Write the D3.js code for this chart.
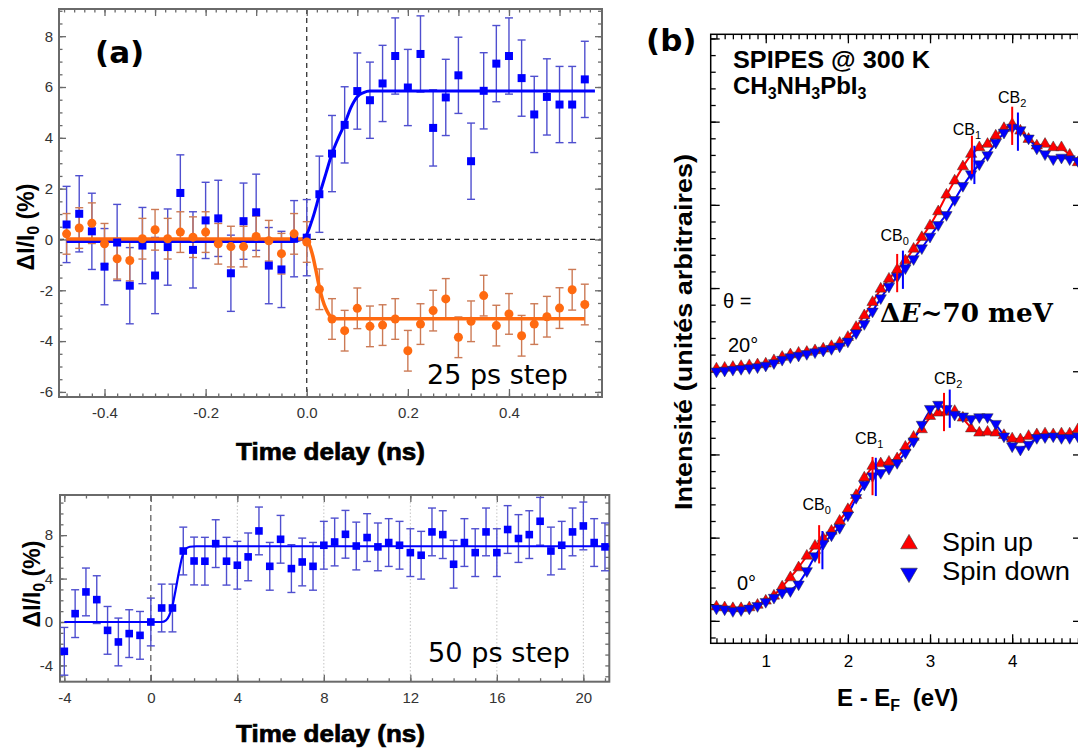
<!DOCTYPE html>
<html>
<head>
<meta charset="utf-8">
<script src="https://cdn.jsdelivr.net/npm/d3@7"></script>
<style>
  body { margin: 0; background: #fff; }
  svg { display: block; }
  text { font-family: "Liberation Sans", Arial, sans-serif; }
</style>
</head>
<body>
<svg id="chart" width="1078" height="751"></svg>
<script>
// ---- panel (a) top : 25 ps step ----
const timeA = [-0.475,-0.45,-0.425,-0.4,-0.375,-0.35,-0.325,-0.3,-0.275,-0.25,-0.225,-0.2,-0.175,-0.15,-0.125,-0.1,-0.075,-0.05,-0.025,0,
  0.025,0.05,0.075,0.1,0.125,0.15,0.175,0.2,0.225,0.25,0.275,0.3,0.325,0.35,0.375,0.4,0.425,0.45,0.475,0.5,0.525,0.55];
const blueA = [0.59,1.01,0.32,-1.07,-0.12,-1.82,-0.24,-1.42,-0.3,1.83,-0.41,0.75,0.83,-1.33,0.72,1.07,-1.03,-1.18,0.03,0.07,
  1.78,3.38,4.51,5.84,5.48,6.14,7.22,5.98,7.3,4.39,5.59,6.46,3.08,5.85,6.92,7.22,6.35,4.92,5.61,5.31,5.31,6.3];
const orangeA = [0.22,0.45,0.64,-0.17,-0.76,-0.83,0.03,0.38,0.03,0.29,0.09,0.29,-0.17,-0.28,-0.28,0.12,-0.05,-0.56,0.22,-0.1,
  -1.96,-3.13,-3.59,-2.71,-3.42,-3.37,-3.13,-4.38,-3.33,-2.8,-2.34,-3.85,-3.22,-2.21,-3.39,-2.93,-3.79,-3.33,-3.04,-2.7,-1.98,-2.56];
const blueErrA = 1.5;
const orangeErrA = 0.8;
const fitBlueA = [[-0.475,-0.08],[-0.03,-0.08],[-0.01,0.0],[0,0.2],[0.012,0.85],[0.025,1.75],[0.038,2.6],[0.05,3.38],
  [0.0625,4.0],[0.075,4.55],[0.0875,5.2],[0.1,5.62],[0.1125,5.78],[0.125,5.84],[0.57,5.84]];
const fitOrangeA = [[-0.475,0.02],[-0.01,0.02],[0,-0.08],[0.006,-0.25],[0.012,-0.65],[0.018,-1.2],[0.025,-1.88],[0.031,-2.35],
  [0.038,-2.73],[0.044,-2.95],[0.05,-3.07],[0.06,-3.12],[0.55,-3.12]];

// ---- panel (a) bottom : 50 ps step ----
const timeB = [-4,-3.5,-3,-2.5,-2,-1.5,-1,-0.5,0,0.5,1,1.5,2,2.5,3,3.5,4,4.5,5,5.5,6,6.5,7,7.5,8,8.5,9,9.5,10,10.5,
  11,11.5,12,12.5,13,13.5,14,14.5,15,15.5,16,16.5,17,17.5,18,18.5,19,19.5,20,20.5,21];
const blueB = [-2.7,0.77,2.77,2.06,-0.77,-1.84,-1.07,-1.23,0,1.29,1.29,6.54,5.62,5.6,7.22,5.6,5.23,6.0,8.39,5.13,
  7.62,4.92,5.53,5.13,7.07,7.37,8.08,7.0,7.78,6.92,7.32,7.07,6.39,6.15,8.3,8.05,5.32,7.32,6.39,8.3,
  6.39,8.52,7.69,8.05,9.28,6.54,7.07,8.3,8.85,7.32,6.92];
const blueErrB = 2.2;
const fitBlueB = [[-4,0],[0.5,0],[0.7,0.15],[0.85,0.6],[1.0,1.5],[1.15,3.0],[1.3,4.6],[1.45,6.0],[1.6,6.7],[1.8,6.93],[2.1,6.98],[21.2,6.98]];
const gridB = [4, 8, 12, 16, 20];

// ---- panel (b) : SPIPES spectra ----
const energy = [0.4,0.5,0.6,0.7,0.8,0.9,1.0,1.1,1.2,1.3,1.4,1.5,1.6,1.7,1.8,1.9,2.0,2.1,2.2,2.3,2.4,2.5,2.6,2.7,2.8,2.9,
  3.0,3.1,3.2,3.3,3.4,3.5,3.6,3.7,3.8,3.9,4.0,4.1,4.2,4.3,4.4,4.5,4.6,4.7,4.8];
const spinUp20 = [3.03,3.04,3.05,3.06,3.07,3.08,3.09,3.13,3.17,3.2,3.22,3.23,3.25,3.27,3.3,3.34,3.41,3.53,3.67,3.83,3.99,4.11,4.22,4.33,4.47,4.61,
  4.75,4.92,5.12,5.29,5.46,5.61,5.69,5.73,5.83,5.92,5.97,5.89,5.79,5.71,5.73,5.69,5.69,5.6,5.51];
const spinDown20 = [3.0,3.01,3.02,3.03,3.04,3.05,3.07,3.1,3.14,3.17,3.19,3.21,3.23,3.25,3.27,3.3,3.36,3.46,3.57,3.72,3.88,4.02,4.14,4.24,4.35,4.48,
  4.62,4.76,4.88,5.06,5.23,5.37,5.49,5.6,5.75,5.87,5.93,5.9,5.8,5.68,5.61,5.55,5.57,5.55,5.53];
const spinUp0 = [0.17,0.16,0.15,0.15,0.16,0.19,0.24,0.3,0.41,0.52,0.64,0.78,0.9,0.99,1.08,1.2,1.34,1.51,1.72,1.86,1.89,1.91,1.95,2.09,2.21,2.3,
  2.46,2.5,2.51,2.52,2.44,2.31,2.26,2.27,2.26,2.23,2.19,2.18,2.22,2.24,2.25,2.24,2.25,2.25,2.3];
const spinDown0 = [0.15,0.14,0.12,0.13,0.15,0.18,0.23,0.28,0.34,0.36,0.44,0.6,0.78,0.93,1.03,1.12,1.27,1.48,1.64,1.74,1.78,1.83,1.9,2.02,2.16,2.36,
  2.55,2.6,2.55,2.48,2.46,2.43,2.45,2.45,2.37,2.22,2.1,2.06,2.12,2.2,2.21,2.22,2.2,2.2,2.22];

// CB markers (energy, centre value) for each spin and angle
const cbNames = ["0", "1", "2"];
const cbUpE20 = [2.6, 3.51, 4.0],    cbUpV20 = [4.18, 5.6, 5.95];
const cbDownE20 = [2.67, 3.54, 4.07], cbDownV20 = [4.22, 5.48, 5.88];
const cbUpE0 = [1.65, 2.3, 3.17],    cbUpV0 = [0.92, 1.74, 2.51];
const cbDownE0 = [1.69, 2.34, 3.24], cbDownV0 = [0.85, 1.73, 2.55];
const cbHalf = 0.23;
const cbLabelE20 = [2.57, 3.45, 4.0], cbLabelV20 = [4.57, 5.84, 6.23];
const cbLabelE0 = [1.62, 2.26, 3.22], cbLabelV0 = [1.33, 2.13, 2.85];

const svg = d3.select("#chart");

const BLUE = "#0000ff", BLUE_ERR = "#4f4fcf", ORANGE = "#ff6a10", ORANGE_ERR = "#cc7a55", FRAME_A = "#6a6a6a";

// inward ticks, no domain line
function ticks(g, axisFn, scale, values, size, transform, color, fmt, pad, fontSize) {
  const ax = axisFn(scale).tickValues(values).tickSize(-size).tickSizeOuter(0)
    .tickPadding(pad || 0).tickFormat(fmt || (() => ""));
  const s = g.append("g").attr("transform", transform).call(ax);
  s.select(".domain").remove();
  s.selectAll("line").attr("stroke", color).attr("stroke-width", 1.3);
  s.selectAll("text").attr("fill", "#333").style("font-size", (fontSize || 15) + "px")
    .style("font-family", '"Liberation Sans", Arial, sans-serif');
  return s;
}

// ================= panel (a) top =================
const xA = d3.scaleLinear().domain([-0.49, 0.584]).range([59, 602]);
const yA = d3.scaleLinear().domain([-6.2, 9.07]).range([397, 9]);
const gA = svg.append("g");

// dashed zero lines
gA.append("line").attr("x1", xA(0)).attr("x2", xA(0)).attr("y1", yA.range()[1]).attr("y2", yA.range()[0])
  .attr("stroke", "#222").attr("stroke-width", 1.2).attr("stroke-dasharray", "5,4");
gA.append("line").attr("x1", xA.range()[0]).attr("x2", xA.range()[1]).attr("y1", yA(0)).attr("y2", yA(0))
  .attr("stroke", "#222").attr("stroke-width", 1.2).attr("stroke-dasharray", "5,4");

const fmtA = d => d.toFixed(1);
const fmtInt = d => String(d);
ticks(gA, d3.axisBottom, xA, d3.range(-0.475, 0.58, 0.025), 3.5, `translate(0,397)`, FRAME_A);
ticks(gA, d3.axisBottom, xA, [-0.4, -0.2, 0, 0.2, 0.4], 8, `translate(0,397)`, FRAME_A, fmtA, 10, 15);
ticks(gA, d3.axisTop, xA, d3.range(-0.48, 0.58, 0.02), 3.5, `translate(0,9)`, FRAME_A);
ticks(gA, d3.axisTop, xA, [-0.4, -0.3, -0.2, -0.1, 0, 0.1, 0.2, 0.3, 0.4, 0.5], 7, `translate(0,9)`, FRAME_A);
ticks(gA, d3.axisLeft, yA, d3.range(-6, 9.1, 0.5), 3.5, `translate(59,0)`, FRAME_A);
ticks(gA, d3.axisLeft, yA, [-6, -4, -2, 0, 2, 4, 6, 8], 7, `translate(59,0)`, FRAME_A, fmtInt, 6, 15);
ticks(gA, d3.axisRight, yA, d3.range(-6, 9.1, 0.5), 4, `translate(602,0)`, FRAME_A);
ticks(gA, d3.axisRight, yA, [-6, -4, -2, 0, 2, 4, 6, 8], 7, `translate(602,0)`, FRAME_A);
gA.append("rect").attr("x", 59).attr("y", 9).attr("width", 602 - 59).attr("height", 397 - 9)
  .attr("fill", "none").attr("stroke", FRAME_A).attr("stroke-width", 2);

function errorBars(g, xs, ys, err, xScale, yScale, color) {
  const bars = g.append("g").attr("stroke", color).attr("stroke-width", 1.4);
  xs.forEach((t, i) => {
    const x = xScale(t), y0 = yScale(ys[i] - err), y1 = yScale(ys[i] + err);
    bars.append("line").attr("x1", x).attr("x2", x).attr("y1", y0).attr("y2", y1);
    bars.append("line").attr("x1", x - 4).attr("x2", x + 4).attr("y1", y0).attr("y2", y0);
    bars.append("line").attr("x1", x - 4).attr("x2", x + 4).attr("y1", y1).attr("y2", y1);
  });
}

errorBars(gA, timeA, blueA, blueErrA, xA, yA, BLUE_ERR);
errorBars(gA, timeA, orangeA, orangeErrA, xA, yA, ORANGE_ERR);

const lineA = d3.line().x(d => xA(d[0])).y(d => yA(d[1])).curve(d3.curveMonotoneX);
gA.append("path").attr("d", lineA(fitBlueA)).attr("fill", "none").attr("stroke", BLUE).attr("stroke-width", 3);
gA.append("path").attr("d", lineA(fitOrangeA)).attr("fill", "none").attr("stroke", ORANGE).attr("stroke-width", 3.5);

gA.append("g").selectAll("rect").data(timeA).join("rect")
  .attr("x", (d) => xA(d) - 4).attr("y", (d, i) => yA(blueA[i]) - 4)
  .attr("width", 8).attr("height", 8).attr("fill", BLUE);
gA.append("g").selectAll("circle").data(timeA).join("circle")
  .attr("cx", d => xA(d)).attr("cy", (d, i) => yA(orangeA[i])).attr("r", 4.5).attr("fill", ORANGE);

gA.append("text").attr("x", 95).attr("y", 63).style("font-size", "31px").style("font-weight", "bold")
  .style("font-family", '"DejaVu Sans", sans-serif').text("(a)");
gA.append("text").attr("x", 427).attr("y", 384).style("font-size", "27px")
  .style("font-family", '"DejaVu Sans", sans-serif').attr("textLength", 141).attr("lengthAdjust", "spacingAndGlyphs")
  .text("25 ps step");

// ================= panel (a) bottom =================
const xB = d3.scaleLinear().domain([-4.2, 21.2]).range([60, 609.3]);
const yB = d3.scaleLinear().domain([-5.5, 11.7]).range([681.7, 495]);
const gB = svg.append("g");

gB.append("g").selectAll("line").data(gridB).join("line")
  .attr("x1", d => xB(d)).attr("x2", d => xB(d)).attr("y1", 495).attr("y2", 681.7)
  .attr("stroke", "#c4c4c4").attr("stroke-width", 1).attr("stroke-dasharray", "1.5,2");
gB.append("line").attr("x1", xB(0)).attr("x2", xB(0)).attr("y1", 495).attr("y2", 681.7)
  .attr("stroke", "#555").attr("stroke-width", 1.2).attr("stroke-dasharray", "6,4");

ticks(gB, d3.axisBottom, xB, d3.range(-4, 21.5, 1), 3.5, `translate(0,681.7)`, FRAME_A);
ticks(gB, d3.axisBottom, xB, [-4, 0, 4, 8, 12, 16, 20], 7, `translate(0,681.7)`, FRAME_A, fmtInt, 11, 15);
ticks(gB, d3.axisTop, xB, d3.range(-4, 21.5, 1), 3.5, `translate(0,495)`, FRAME_A);
ticks(gB, d3.axisTop, xB, [-4, 0, 4, 8, 12, 16, 20], 7, `translate(0,495)`, FRAME_A);
ticks(gB, d3.axisLeft, yB, d3.range(-5, 11.5, 1), 3.5, `translate(60,0)`, FRAME_A);
ticks(gB, d3.axisLeft, yB, [-4, 0, 4, 8], 7, `translate(60,0)`, FRAME_A, fmtInt, 7, 15);
ticks(gB, d3.axisRight, yB, d3.range(-5, 11.5, 1), 4, `translate(609.3,0)`, FRAME_A);
gB.append("rect").attr("x", 60).attr("y", 495).attr("width", 609.3 - 60).attr("height", 681.7 - 495)
  .attr("fill", "none").attr("stroke", FRAME_A).attr("stroke-width", 2);

errorBars(gB, timeB, blueB, blueErrB, xB, yB, BLUE_ERR);
const lineB = d3.line().x(d => xB(d[0])).y(d => yB(d[1])).curve(d3.curveMonotoneX);
gB.append("path").attr("d", lineB(fitBlueB)).attr("fill", "none").attr("stroke", BLUE).attr("stroke-width", 2.2);
gB.append("g").selectAll("rect").data(timeB).join("rect")
  .attr("x", d => xB(d) - 3.8).attr("y", (d, i) => yB(blueB[i]) - 3.8)
  .attr("width", 7.6).attr("height", 7.6).attr("fill", BLUE);

gB.append("text").attr("x", 428).attr("y", 662).style("font-size", "27px")
  .style("font-family", '"DejaVu Sans", sans-serif').attr("textLength", 142).attr("lengthAdjust", "spacingAndGlyphs")
  .text("50 ps step");

// axis titles for (a)
function dILabel(x, y) {
  const t = svg.append("text").attr("transform", `translate(${x},${y}) rotate(-90)`).attr("text-anchor", "middle")
    .style("font-size", "23px").style("font-weight", "bold");
  t.append("tspan").text("ΔI/I");
  t.append("tspan").attr("dy", 5).style("font-size", "16px").text("0");
  t.append("tspan").attr("dy", -5).text(" (%)");
}
dILabel(34, 227);
dILabel(40, 584);
[460, 742].forEach(y => {
  svg.append("text").attr("x", 236).attr("y", y).style("font-size", "24px").style("font-weight", "bold")
    .attr("stroke", "#000").attr("stroke-width", 0.7).attr("textLength", 189).attr("lengthAdjust", "spacingAndGlyphs")
    .text("Time delay (ns)");
});

// ================= panel (b) =================
const xC = d3.scaleLinear().domain([0.33, 4.85]).range([710.7, 1082]);
const yC = d3.scaleLinear().domain([-0.27, 7.05]).range([643.3, 34.3]);
const gC = svg.append("g");

ticks(gC, d3.axisBottom, xC, d3.range(0.4, 4.85, 0.1), 5, `translate(0,643.3)`, "#000");
ticks(gC, d3.axisBottom, xC, [1, 2, 3, 4], 9, `translate(0,643.3)`, "#000", fmtInt, 12, 17);
ticks(gC, d3.axisTop, xC, d3.range(0.4, 4.85, 0.1), 5, `translate(0,34.3)`, "#000");
ticks(gC, d3.axisTop, xC, [1, 2, 3, 4], 9, `translate(0,34.3)`, "#000");
ticks(gC, d3.axisLeft, yC, d3.range(-0.2, 7.01, 0.2), 5, `translate(710.7,0)`, "#000");
ticks(gC, d3.axisLeft, yC, [0, 1, 2, 3, 4, 5, 6, 7], 9, `translate(710.7,0)`, "#000");
ticks(gC, d3.axisRight, yC, [0, 1, 2, 3, 4, 5, 6], 9, `translate(1082,0)`, "#000");
gC.selectAll("text").style("fill", "#000");
gC.append("rect").attr("x", 710.7).attr("y", 34.3).attr("width", 1082 - 710.7).attr("height", 643.3 - 34.3)
  .attr("fill", "none").attr("stroke", "#000").attr("stroke-width", 1.5);

const RED = "#ff0000";
const lineC = d3.line().x((d, i) => xC(energy[i])).y(d => yC(d)).curve(d3.curveBasis);
[[spinUp20, RED], [spinDown20, BLUE], [spinUp0, RED], [spinDown0, BLUE]].forEach(([s, c]) => {
  gC.append("path").attr("d", lineC(s)).attr("fill", "none").attr("stroke", c).attr("stroke-width", 2);
});

const triSmall = d3.symbol().type(d3.symbolTriangle).size(55);
function triangles(series, color, down) {
  gC.append("g").selectAll("path").data(series).join("path")
    .attr("d", triSmall)
    .attr("transform", (d, i) => `translate(${xC(energy[i])},${yC(d)})` + (down ? " rotate(180)" : ""))
    .attr("fill", color).attr("stroke", "#333").attr("stroke-width", 0.5);
}
triangles(spinUp20, RED, false);
triangles(spinDown20, BLUE, true);
triangles(spinUp0, RED, false);
triangles(spinDown0, BLUE, true);

function cbMarks(es, vs, color) {
  gC.append("g").selectAll("line").data(es).join("line")
    .attr("x1", d => xC(d)).attr("x2", d => xC(d))
    .attr("y1", (d, i) => yC(vs[i] - cbHalf)).attr("y2", (d, i) => yC(vs[i] + cbHalf))
    .attr("stroke", color).attr("stroke-width", 2);
}
cbMarks(cbUpE20, cbUpV20, RED);
cbMarks(cbDownE20, cbDownV20, BLUE);
cbMarks(cbUpE0, cbUpV0, RED);
cbMarks(cbDownE0, cbDownV0, BLUE);

function cbLabels(es, vs) {
  es.forEach((e, i) => {
    const t = gC.append("text").attr("x", xC(e)).attr("y", yC(vs[i])).attr("text-anchor", "middle")
      .style("font-size", "16px");
    t.append("tspan").text("CB");
    t.append("tspan").attr("dy", 4).style("font-size", "11px").text(cbNames[i]);
  });
}
cbLabels(cbLabelE20, cbLabelV20);
cbLabels(cbLabelE0, cbLabelV0);

// annotations
svg.append("text").attr("x", 646).attr("y", 51).style("font-size", "31px").style("font-weight", "bold")
  .style("font-family", '"DejaVu Sans", sans-serif').text("(b)");
svg.append("text").attr("x", 733).attr("y", 68).style("font-size", "24px").style("font-weight", "bold")
  .attr("textLength", 197).attr("lengthAdjust", "spacingAndGlyphs").text("SPIPES @ 300 K");
const ch = svg.append("text").attr("x", 733).attr("y", 94).style("font-size", "24px").style("font-weight", "bold");
[["CH", 0], ["3", 1], ["NH", 0], ["3", 1], ["PbI", 0], ["3", 1]].forEach(([s, sub], i, arr) => {
  const prev = i > 0 ? arr[i - 1][1] : 0;
  ch.append("tspan").attr("dy", (sub - prev) * 5).style("font-size", sub ? "16px" : "24px").text(s);
});
svg.append("text").attr("x", 723).attr("y", 308).style("font-size", "20px").text("θ =");
svg.append("text").attr("x", 728).attr("y", 352).style("font-size", "20px").text("20°");
svg.append("text").attr("x", 737).attr("y", 590).style("font-size", "20px").text("0°");
const dE = svg.append("text").attr("x", 880).attr("y", 322).style("font-size", "26px").style("font-weight", "bold")
  .style("font-family", '"DejaVu Serif", "Liberation Serif", serif').attr("textLength", 173)
  .attr("lengthAdjust", "spacingAndGlyphs");
dE.append("tspan").text("Δ");
dE.append("tspan").style("font-style", "italic").text("E");
dE.append("tspan").text("~70 meV");

// legend
const triBig = d3.symbol().type(d3.symbolTriangle).size(120);
svg.append("path").attr("d", triBig).attr("transform", "translate(909,544)")
  .attr("fill", RED).attr("stroke", "#333").attr("stroke-width", 0.6);
svg.append("path").attr("d", triBig).attr("transform", "translate(909,573) rotate(180)")
  .attr("fill", BLUE).attr("stroke", "#333").attr("stroke-width", 0.6);
svg.append("text").attr("x", 942).attr("y", 551).style("font-size", "26px").attr("textLength", 91)
  .attr("lengthAdjust", "spacingAndGlyphs").text("Spin up");
svg.append("text").attr("x", 942).attr("y", 580).style("font-size", "26px").attr("textLength", 128)
  .attr("lengthAdjust", "spacingAndGlyphs").text("Spin down");

// axis titles for (b)
svg.append("text").attr("transform", "translate(692,332) rotate(-90)").attr("text-anchor", "middle")
  .style("font-size", "24px").style("font-weight", "bold").attr("textLength", 356)
  .attr("lengthAdjust", "spacingAndGlyphs").text("Intensité (unités arbitraires)");
const ex = svg.append("text").attr("x", 837).attr("y", 706).style("font-size", "24px").style("font-weight", "bold");
ex.append("tspan").text("E - E");
ex.append("tspan").attr("dy", 5).style("font-size", "16px").text("F");
ex.append("tspan").attr("dy", -5).attr("dx", 6).text(" (eV)");
</script>
</body>
</html>
